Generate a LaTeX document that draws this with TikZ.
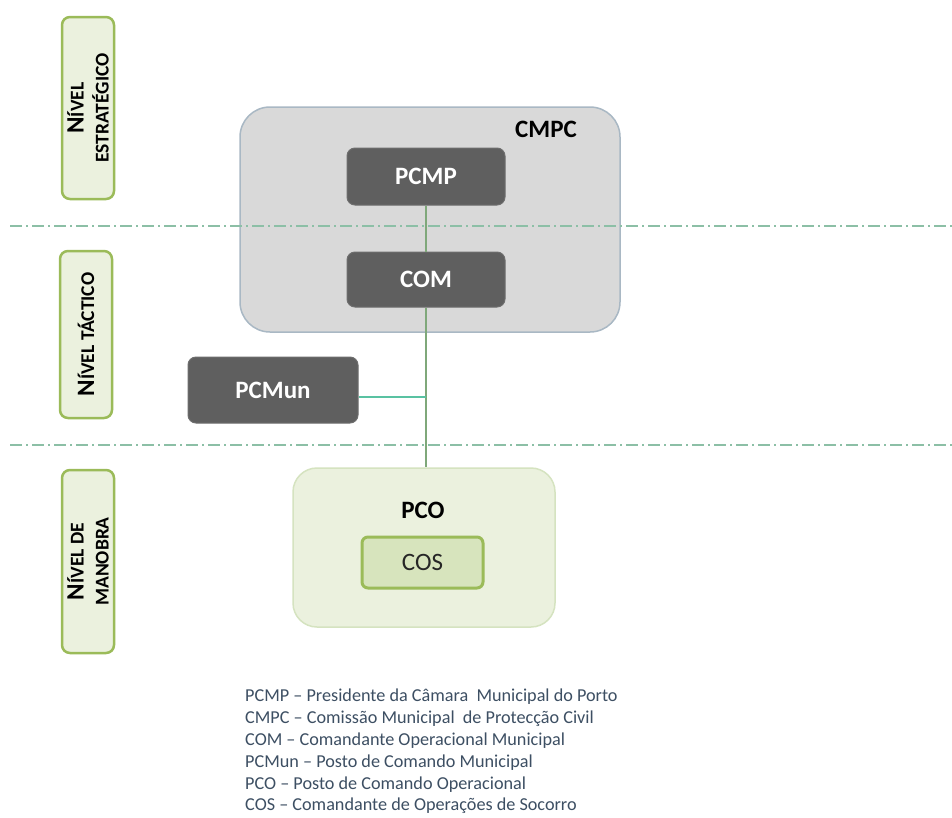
\documentclass[tikz,border=0pt]{standalone}
\usepackage{fontspec}
\setmainfont{Carlito}
\definecolor{lvfill}{HTML}{EBF1DE}
\definecolor{lvdraw}{HTML}{9BBB59}
\definecolor{sepline}{HTML}{8CBFA6}
\definecolor{cmpcfill}{HTML}{D9D9D9}
\definecolor{cmpcdraw}{HTML}{A9B8C4}
\definecolor{darkbox}{HTML}{5F5F5F}
\definecolor{darkdraw}{HTML}{6E6E6E}
\definecolor{pcofill}{HTML}{EBF1DE}
\definecolor{pcodraw}{HTML}{D5E3C0}
\definecolor{cosfill}{HTML}{D7E4BD}
\definecolor{linkcol}{HTML}{7FA87A}
\definecolor{legendcol}{HTML}{3D4F63}
\newcommand\levelN{{\fontsize{25}{25}\selectfont N}}
\begin{document}
\begin{tikzpicture}[x=1pt,y=-1pt,
  levelbox/.style={draw=lvdraw, line width=2.5pt, fill=lvfill, rounded corners=8pt,
    minimum width=52pt, inner sep=0pt},
  leveltext/.style={rotate=90, align=center, inner sep=0pt,
    font=\bfseries\fontsize{19.5}{25}\selectfont},
  sepdash/.style={draw=sepline, line width=1.3pt, dash pattern=on 12pt off 4pt on 2pt off 4pt},
  groupbox/.style={rounded corners=30pt, inner sep=0pt},
  darkunit/.style={draw=darkdraw, line width=1pt, fill=darkbox, rounded corners=8pt,
    text=white, font=\bfseries\fontsize{25}{28}\selectfont, inner sep=0pt},
  link/.style={draw=linkcol, line width=1.2pt},
  caption/.style={font=\bfseries\fontsize{25}{28}\selectfont, text=black, inner sep=1pt}
]
\useasboundingbox[fill=white] (0,0) rectangle (952,817);

% level markers on the left
\node[levelbox, minimum height=182pt] (lvA) at (88,108) {};
\node[leveltext] (lvAtxt) at (lvA) {\levelN ÍVEL\\ESTRATÉGICO};
\node[levelbox, minimum height=167pt] (lvB) at (86,334.5) {};
\node[leveltext] (lvBtxt) at (lvB) {\levelN ÍVEL TÁCTICO};
\node[levelbox, minimum height=183pt] (lvC) at (88,561.5) {};
\node[leveltext] (lvCtxt) at (lvC) {\levelN ÍVEL DE\\MANOBRA};

% municipal commission
\node[groupbox, draw=cmpcdraw, line width=1.5pt, fill=cmpcfill,
  minimum width=380pt, minimum height=225pt] (cmpc) at (430,219.5) {};
\node[caption] (cmpclbl) at (546,129) {CMPC};

% operational command post
\node[groupbox, rounded corners=24pt, draw=pcodraw, line width=1.5pt, fill=pcofill,
  minimum width=262pt, minimum height=159pt] (pco) at (424,547.5) {};
\node[caption] (pcolbl) at (423,510) {PCO};
\node[draw=lvdraw, line width=3pt, fill=cosfill, rounded corners=6pt,
  minimum width=121pt, minimum height=51pt, inner sep=0pt,
  font=\fontsize{25}{28}\selectfont, text=black!85] (cos) at (422.5,562.5) {COS};

% boundaries between levels
\coordinate (sepAl) at (10,226);
\coordinate (sepAr) at (952,226);
\coordinate (sepBl) at (10,445);
\coordinate (sepBr) at (952,445);
\draw[sepdash] (sepAl) -- (sepAr);
\draw[sepdash] (sepBl) -- (sepBr);

% command units
\node[darkunit, minimum width=158pt, minimum height=57pt] (pcmp) at (426,176.5) {PCMP};
\node[darkunit, minimum width=158pt, minimum height=55pt] (com) at (426,279.5) {COM};
\node[darkunit, minimum width=170pt, minimum height=66pt] (pcmun) at (273,390) {PCMun};

% chain of command
\coordinate (junction) at (426,397);
\draw[link] (pcmp.south) -- (com.north);
\draw[link] (com.south) -- (com.south |- pco.north);
\draw[link, draw=linkcol!70!cyan] (pcmun.east |- junction) -- (junction);

% legend
\node[anchor=north west, align=left, inner sep=0pt, text=legendcol,
  font=\fontsize{18.2}{21.8}\selectfont] (legend) at (245,689) {%
PCMP -- Presidente da Câmara\ \ Municipal do Porto\\
CMPC -- Comissão Municipal\ \ de Protecção Civil\\
COM -- Comandante Operacional Municipal\\
PCMun -- Posto de Comando Municipal\\
PCO -- Posto de Comando Operacional\\
COS -- Comandante de Operações de Socorro};
\end{tikzpicture}
\end{document}
